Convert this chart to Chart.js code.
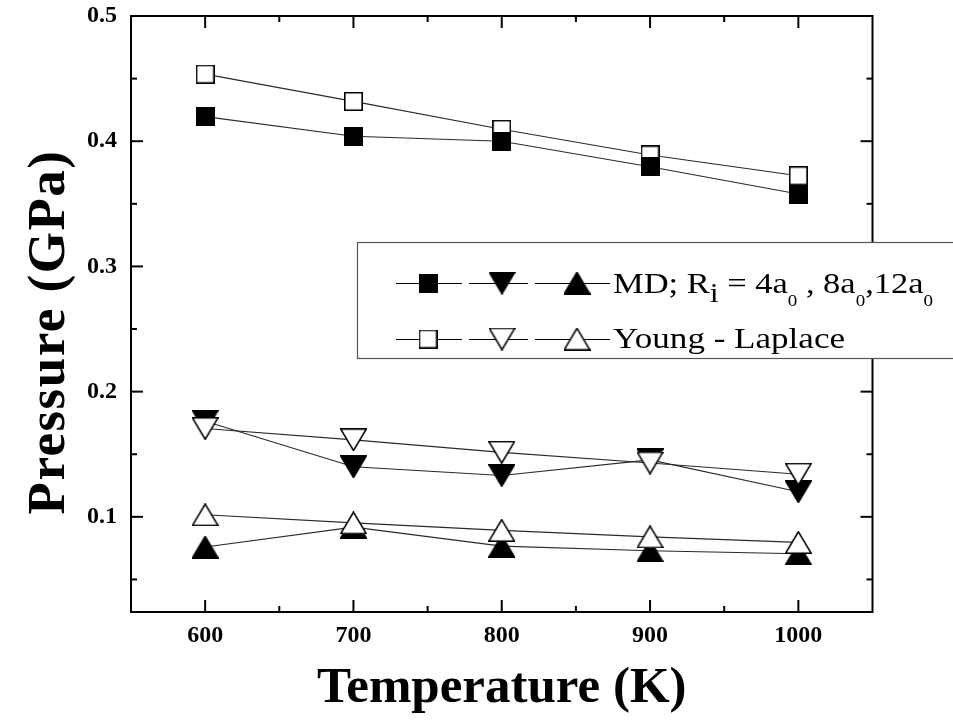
<!DOCTYPE html>
<html>
<head>
<meta charset="utf-8">
<script src="https://cdn.jsdelivr.net/npm/chart.js@4.4.1/dist/chart.umd.min.js"></script>
<style>
html,body{margin:0;padding:0;background:#fff;}
#wrap{width:953px;height:722px;position:relative;}
</style>
</head>
<body>
<div id="wrap"><canvas id="c" width="953" height="722"></canvas></div>
<script>
// ---- data ----
const temperatures = [600, 700, 800, 900, 1000];
const mdR4  = [0.4196, 0.404, 0.400, 0.3796, 0.3578];
const mdR8  = [0.1764, 0.140, 0.133, 0.1455, 0.120];
const mdR12 = [0.0759, 0.0918, 0.0766, 0.0729, 0.0705];
const ylR4  = [0.4536, 0.4318, 0.4095, 0.389, 0.3724];
const ylR8  = [0.1705, 0.1615, 0.1515, 0.143, 0.134];
const ylR12 = [0.1017, 0.0952, 0.0892, 0.084, 0.0796];
const xTicks = [600, 700, 800, 900, 1000];
const xMinor = [650, 750, 850, 950];
const yTicks = [0.1, 0.2, 0.3, 0.4, 0.5];
const yMinor = [0.05, 0.15, 0.25, 0.35, 0.45];
const xTitle = 'Temperature (K)';
const yTitle = 'Pressure (GPa)';
const legendMD = [['MD; R', 'n'], ['i', 'i'], [' = 4a', 'n'], ['0', 's'], [' , 8a', 'n'], ['0', 's'], [',12a', 'n'], ['0', 's']];
const legendYL = [['Young - Laplace', 'n']];

const SERIF = '"Liberation Serif", "Times New Roman", serif';

function makeMarker(shape, filled) {
  const c = document.createElement('canvas');
  let w, h;
  if (shape === 'square') { w = 19; h = 19; } else { w = 27; h = 23; }
  c.width = w; c.height = h;
  const g = c.getContext('2d');
  g.lineWidth = 1.6; g.strokeStyle = '#000'; g.fillStyle = filled ? '#000' : '#fff';
  g.beginPath();
  const m = 0.8;
  if (shape === 'square') {
    g.rect(m, m, w - 2 * m, h - 2 * m);
  } else if (shape === 'up') {
    g.moveTo(w / 2, m); g.lineTo(w - m, h - m); g.lineTo(m, h - m); g.closePath();
  } else {
    g.moveTo(m, m); g.lineTo(w - m, m); g.lineTo(w / 2, h - m); g.closePath();
  }
  g.fill(); g.stroke();
  return c;
}
const mk = {
  sqF: makeMarker('square', true), sqO: makeMarker('square', false),
  dnF: makeMarker('down', true), dnO: makeMarker('down', false),
  upF: makeMarker('up', true), upO: makeMarker('up', false)
};

const pts = arr => temperatures.map((t, i) => ({x: t, y: arr[i]}));

const series = [
  {label: 'MD R=4a0',  data: mdR4,  img: mk.sqF, order: 4},
  {label: 'YL R=4a0',  data: ylR4,  img: mk.sqO, order: 5},
  {label: 'MD R=8a0',  data: mdR8,  img: mk.dnF, order: 5},
  {label: 'YL R=8a0',  data: ylR8,  img: mk.dnO, order: 4},
  {label: 'MD R=12a0', data: mdR12, img: mk.upF, order: 5},
  {label: 'YL R=12a0', data: ylR12, img: mk.upO, order: 4}
];

const datasets = [];
series.forEach(s => {
  datasets.push({label: s.label + ' line', data: pts(s.data), showLine: true, pointRadius: 0,
    borderColor: '#2a2a2a', borderWidth: 1.1, order: 10, fill: false});
});
series.forEach(s => {
  datasets.push({label: s.label, data: pts(s.data), showLine: false, pointStyle: s.img,
    pointRadius: 10, order: s.order});
});

const decor = {
  id: 'decor',
  afterDatasetsDraw(chart) {
    const ctx = chart.ctx;
    const a = chart.chartArea;
    const xs = chart.scales.x, ys = chart.scales.y;
    ctx.save();
    ctx.strokeStyle = '#000';
    ctx.lineWidth = 2;
    ctx.strokeRect(a.left, a.top, a.right - a.left, a.bottom - a.top);
    const tick = (x1, y1, x2, y2) => { ctx.beginPath(); ctx.moveTo(x1, y1); ctx.lineTo(x2, y2); ctx.stroke(); };
    xTicks.forEach(v => { const p = xs.getPixelForValue(v); tick(p, a.bottom, p, a.bottom - 12); tick(p, a.top, p, a.top + 12); });
    xMinor.forEach(v => { const p = xs.getPixelForValue(v); tick(p, a.bottom, p, a.bottom - 6); tick(p, a.top, p, a.top + 6); });
    yTicks.forEach(v => { const p = ys.getPixelForValue(v); tick(a.left, p, a.left + 12, p); tick(a.right, p, a.right - 12, p); });
    yMinor.forEach(v => { const p = ys.getPixelForValue(v); tick(a.left, p, a.left + 6, p); tick(a.right, p, a.right - 6, p); });

    // y-axis title
    ctx.fillStyle = '#000';
    ctx.save();
    ctx.translate(50.5, 332);
    ctx.rotate(-Math.PI / 2);
    ctx.font = 'bold 53px ' + SERIF;
    try { ctx.letterSpacing = '1.5px'; } catch (e) {}
    ctx.textAlign = 'center';
    ctx.textBaseline = 'middle';
    ctx.fillText(yTitle, 0, 0);
    try { ctx.letterSpacing = '0px'; } catch (e) {}
    ctx.restore();

    // legend
    const bx = 357, by = 242, bh = 116;
    ctx.fillStyle = '#fff';
    ctx.fillRect(bx, by, 953 - bx + 10, bh);
    ctx.strokeStyle = '#555';
    ctx.lineWidth = 1.2;
    ctx.strokeRect(bx + 0.5, by + 0.5, 953 - bx + 10, bh);

    const rows = [
      {y: 283, base: 293, imgs: [mk.sqF, mk.dnF, mk.upF], parts: legendMD, width: 320},
      {y: 339, base: 348, imgs: [mk.sqO, mk.dnO, mk.upO], parts: legendYL, width: 232}
    ];
    const segs = [[396, 462], [469, 528], [535, 610]];
    const mxs = [428, 502, 577];
    rows.forEach(r => {
      ctx.strokeStyle = '#000';
      ctx.lineWidth = 1;
      segs.forEach(sg => tick(sg[0], r.y + 0.5, sg[1], r.y + 0.5));
      r.imgs.forEach((im, i) => ctx.drawImage(im, mxs[i] - im.width / 2, r.y - im.height / 2));
      const fontFor = k => k === 's' ? '16px ' + SERIF : (k === 'i' ? '27px ' + SERIF : '29px ' + SERIF);
      const dyFor = k => k === 's' ? 13 : (k === 'i' ? 9 : 0);
      let total = 0;
      r.parts.forEach(p => { ctx.font = fontFor(p[1]); total += ctx.measureText(p[0]).width; });
      const sx = r.width / total;
      ctx.save();
      ctx.translate(613, r.base);
      ctx.scale(sx, 1);
      ctx.fillStyle = '#000';
      ctx.textAlign = 'left';
      ctx.textBaseline = 'alphabetic';
      let cx = 0;
      r.parts.forEach(p => {
        ctx.font = fontFor(p[1]);
        ctx.fillText(p[0], cx, dyFor(p[1]));
        cx += ctx.measureText(p[0]).width;
      });
      ctx.restore();
    });
    ctx.restore();
  }
};

new Chart(document.getElementById('c'), {
  type: 'scatter',
  data: {datasets},
  options: {
    responsive: false,
    animation: false,
    events: [],
    layout: {padding: {left: 0, top: 16, right: 80.5, bottom: 0}},
    plugins: {legend: {display: false}, tooltip: {enabled: false}},
    scales: {
      x: {
        type: 'linear', min: 550, max: 1050,
        afterBuildTicks: s => { s.ticks = xTicks.map(v => ({value: v})); },
        afterFit: s => { s.height = 110; s.paddingLeft = 0; s.paddingRight = 0; },
        grid: {display: false, drawTicks: false},
        border: {display: false},
        ticks: {color: '#000', padding: 9, maxRotation: 0, autoSkip: false,
          font: {family: SERIF, size: 24, weight: 'bold'}, callback: v => String(v)},
        title: {display: true, text: xTitle, color: '#000',
          font: {family: SERIF, size: 51, weight: 'bold'}, padding: {top: 0, bottom: 3}}
      },
      y: {
        type: 'linear', min: 0.024, max: 0.5,
        afterBuildTicks: s => { s.ticks = yTicks.map(v => ({value: v})); },
        afterFit: s => { s.width = 131; s.paddingTop = 0; s.paddingBottom = 0; },
        grid: {display: false, drawTicks: false},
        border: {display: false},
        ticks: {color: '#000', padding: 14, autoSkip: false,
          font: {family: SERIF, size: 24, weight: 'bold'}, callback: v => Number(v).toFixed(1)}
      }
    }
  },
  plugins: [decor]
});
</script>
</body>
</html>
